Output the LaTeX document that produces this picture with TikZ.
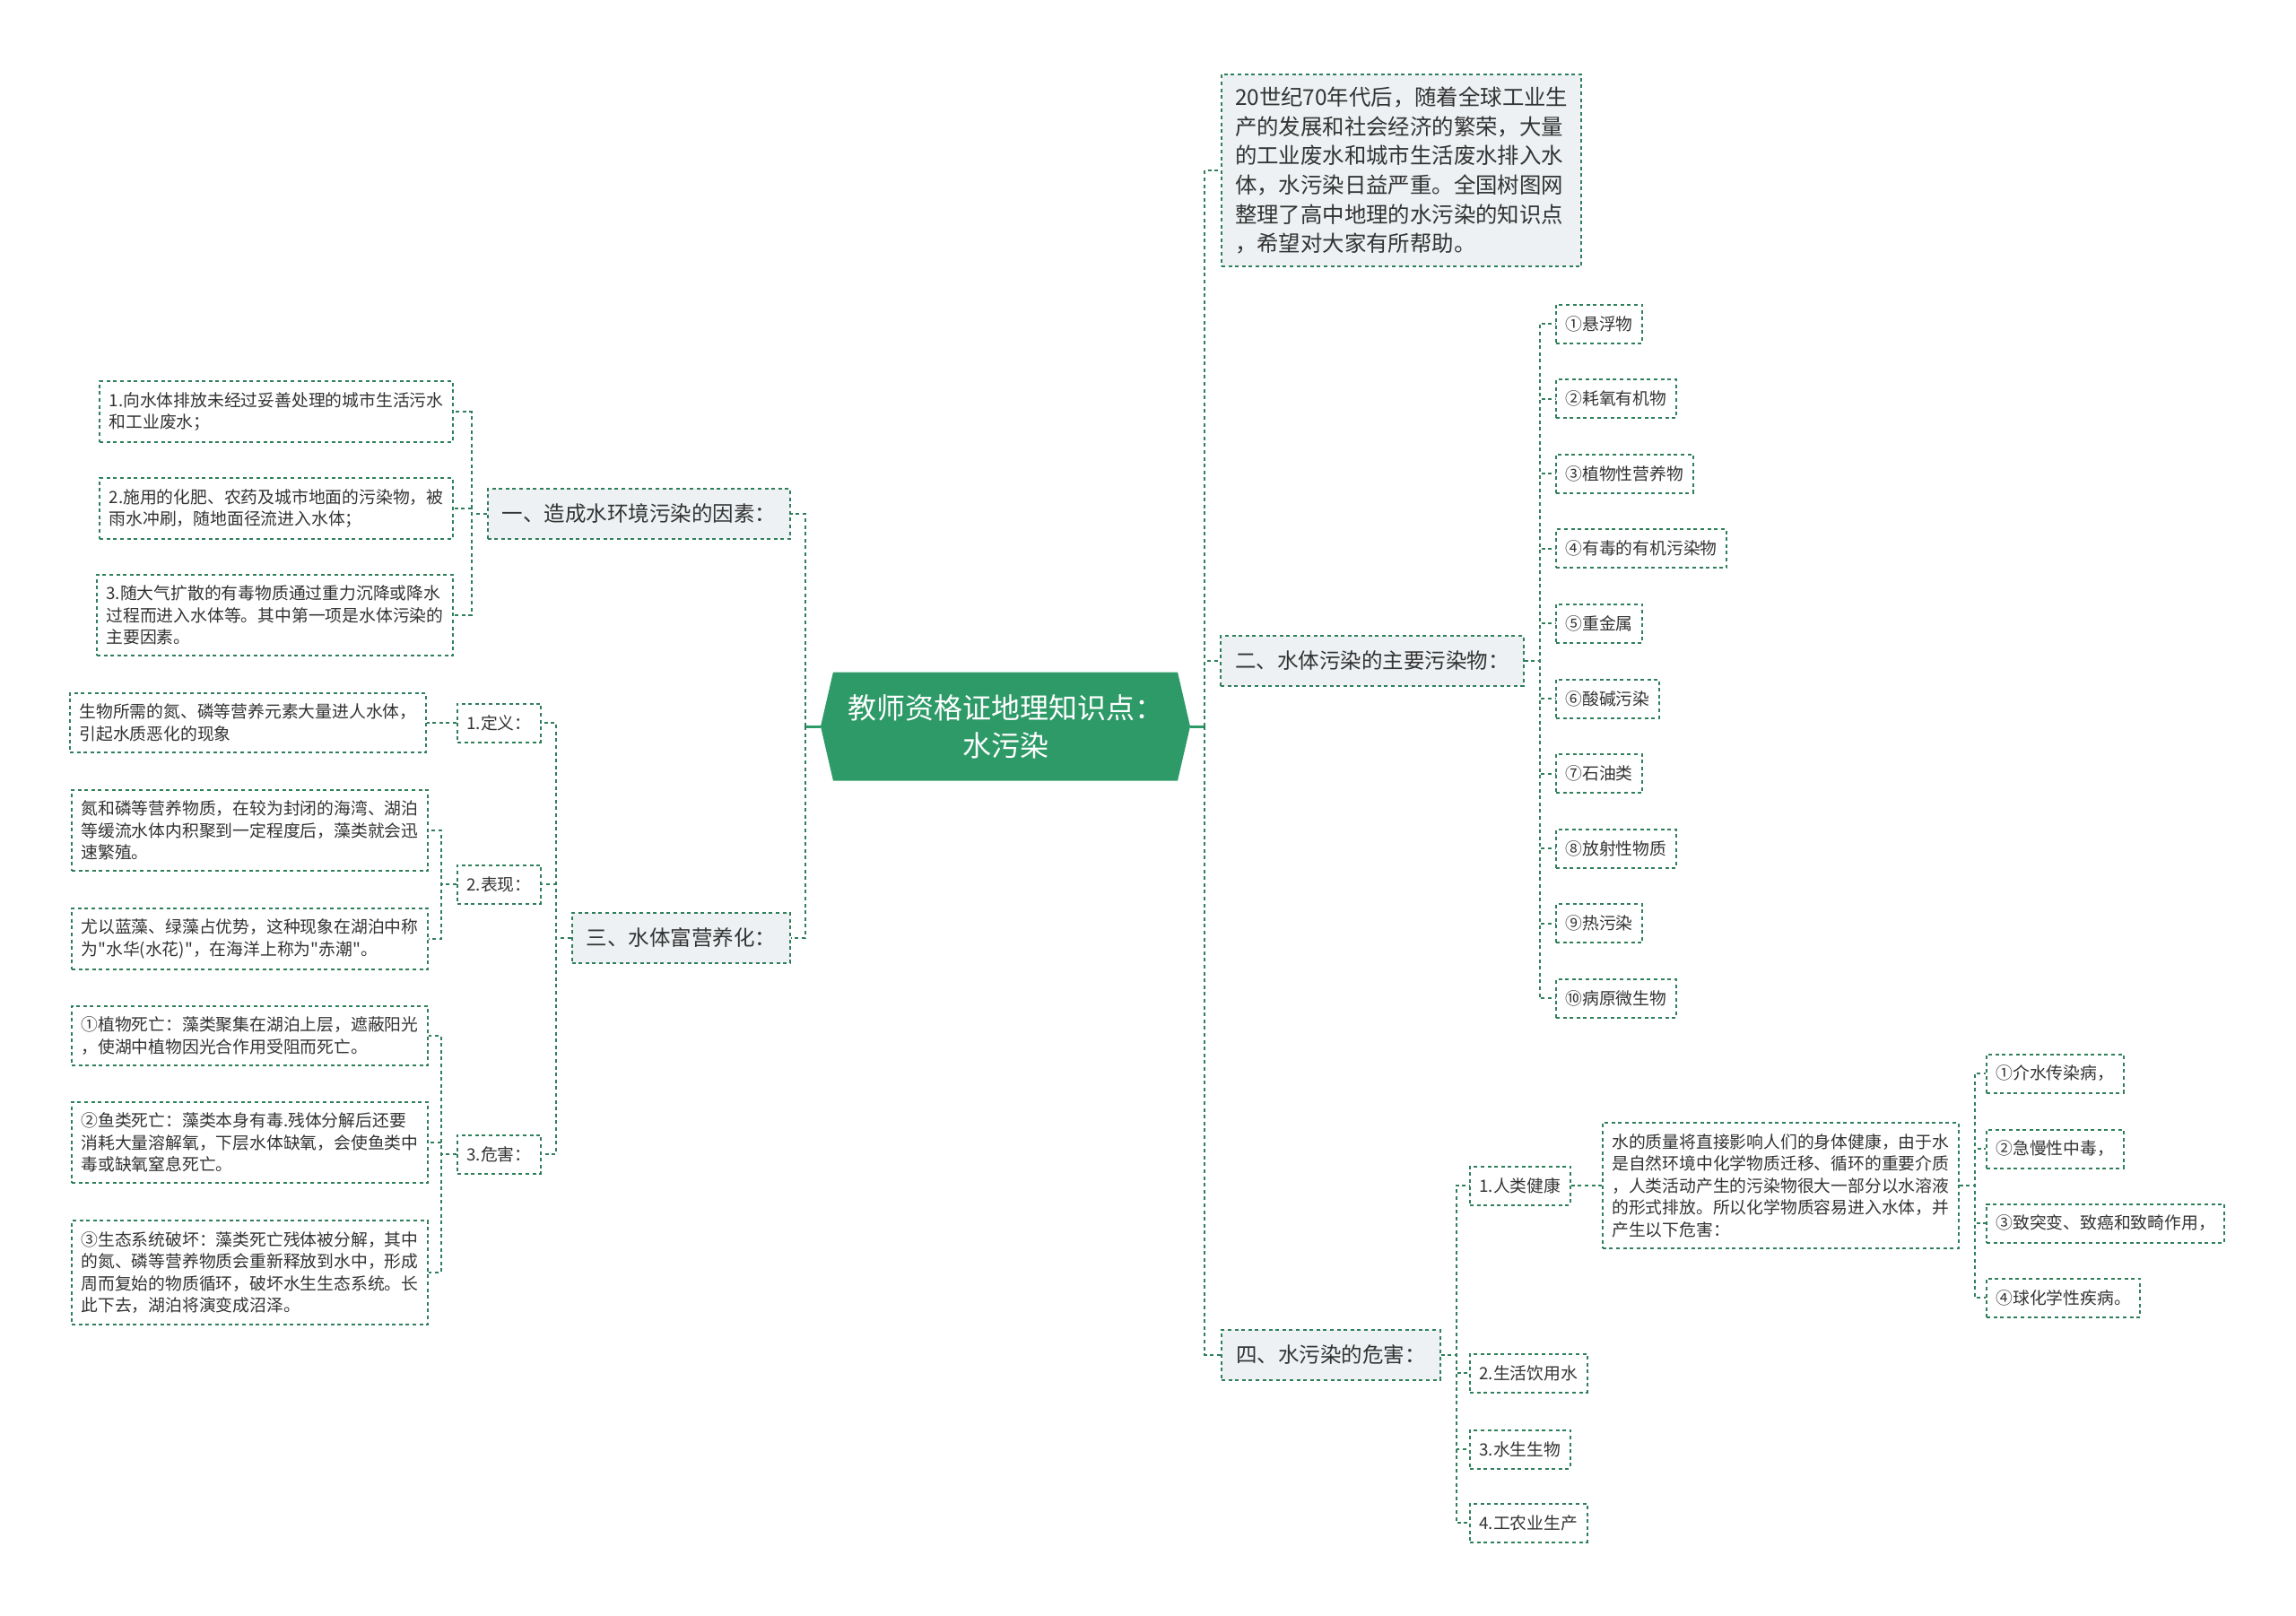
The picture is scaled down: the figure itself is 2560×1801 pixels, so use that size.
\documentclass[tikz,border=0pt]{standalone}
\usepackage{fontspec}
\setmainfont{Noto Sans CJK SC}[Ligatures=TeXOff]
\usepackage{xcolor}
\usetikzlibrary{positioning,shapes.symbols}
\definecolor{mapgreen}{HTML}{2E9A68}
\definecolor{linegreen}{HTML}{2F7F5C}
\definecolor{boxgray}{HTML}{EDF1F3}
\definecolor{inkgray}{HTML}{333333}

\begin{document}
\begin{tikzpicture}[x=0.5pt,y=-0.5pt,
 link/.style={draw=linegreen,line width=1pt,dash pattern=on 2pt off 1.8pt},
 stem/.style={draw=mapgreen,line width=1.5pt},
 topic/.style={fill=mapgreen,text=white,shape=signal,signal to=west and east,signal pointer angle=154,minimum width=206pt,minimum height=60.5pt,align=center,inner sep=0pt,font=\fontsize{16}{21}\selectfont},
 branch/.style={link,fill=boxgray,text=inkgray,minimum height=28pt,inner xsep=8pt,font=\fontsize{11.75}{14}\selectfont},
 intro/.style={link,fill=boxgray,text=inkgray,align=left,inner xsep=7.5pt,inner ysep=7pt,font=\fontsize{12.2}{16.35}\selectfont},
 leaf/.style={link,fill=white,text=inkgray,align=left,inner xsep=5.25pt,inner ysep=6pt,minimum height=21.5pt,font=\fontsize{9.4}{12.25}\selectfont}]
\useasboundingbox (0,0) rectangle (2560,1801);

\node[topic] (root) at (1121,810) {教师资格证地理知识点：\\水污染};

\node[intro,anchor=west] (intro) at (1361,190) {20世纪70年代后，随着全球工业生\\产的发展和社会经济的繁荣，大量\\的工业废水和城市生活废水排入水\\体，水污染日益严重。全国树图网\\整理了高中地理的水污染的知识点\\，希望对大家有所帮助。};
\node[branch,anchor=west] (b2) at (1360,737) {二、水体污染的主要污染物：};
\node[branch,anchor=west] (b4) at (1361,1511) {四、水污染的危害：};
\node[branch,anchor=east] (b1) at (882,573) {一、造成水环境污染的因素：};
\node[branch,anchor=east] (b3) at (882,1046) {三、水体富营养化：};

\foreach \t [count=\i] in {①悬浮物,②耗氧有机物,③植物性营养物,④有毒的有机污染物,⑤重金属,⑥酸碱污染,⑦石油类,⑧放射性物质,⑨热污染,⑩病原微生物}
  \node[leaf,anchor=west] (p\i) at (1734,{361+(\i-1)*83.6}) {\t};

\node[leaf,anchor=west] (h1) at (1638,1322) {1.人类健康};
\node[leaf,anchor=west] (h2) at (1638,1531) {2.生活饮用水};
\node[leaf,anchor=west] (h3) at (1638,1616) {3.水生生物};
\node[leaf,anchor=west] (h4) at (1638,1698) {4.工农业生产};
\node[leaf,right=17pt of h1] (health) {水的质量将直接影响人们的身体健康，由于水\\是自然环境中化学物质迁移、循环的重要介质\\，人类活动产生的污染物很大一部分以水溶液\\的形式排放。所以化学物质容易进入水体，并\\产生以下危害：};
\node[leaf,anchor=west] (d1) at (2214,1197) {①介水传染病，};
\node[leaf,anchor=west] (d2) at (2214,1281) {②急慢性中毒，};
\node[leaf,anchor=west] (d3) at (2214,1364) {③致突变、致癌和致畸作用，};
\node[leaf,anchor=west] (d4) at (2214,1447) {④球化学性疾病。};

\node[leaf,anchor=east] (c1) at (506,459) {1.向水体排放未经过妥善处理的城市生活污水\\和工业废水；};
\node[leaf,anchor=east] (c2) at (506,567) {2.施用的化肥、农药及城市地面的污染物，被\\雨水冲刷，随地面径流进入水体；};
\node[leaf,anchor=east] (c3) at (506,686) {3.随大气扩散的有毒物质通过重力沉降或降水\\过程而进入水体等。其中第一项是水体污染的\\主要因素。};

\node[leaf,anchor=east] (e1) at (604,806) {1.定义：};
\node[leaf,anchor=east] (e2) at (604,986) {2.表现：};
\node[leaf,anchor=east] (e3) at (604,1287) {3.危害：};
\node[leaf,left=16.5pt of e1] (def) {生物所需的氮、磷等营养元素大量进人水体，\\引起水质恶化的现象};
\node[leaf,anchor=east] (sign1) at (478,926) {氮和磷等营养物质，在较为封闭的海湾、湖泊\\等缓流水体内积聚到一定程度后，藻类就会迅\\速繁殖。};
\node[leaf,anchor=east] (sign2) at (478,1047) {尤以蓝藻、绿藻占优势，这种现象在湖泊中称\\为"水华(水花)"，在海洋上称为"赤潮"。};
\node[leaf,anchor=east] (harm1) at (478,1155) {①植物死亡：藻类聚集在湖泊上层，遮蔽阳光\\，使湖中植物因光合作用受阻而死亡。};
\node[leaf,anchor=east] (harm2) at (478,1274) {②鱼类死亡：藻类本身有毒.残体分解后还要\\消耗大量溶解氧，下层水体缺氧，会使鱼类中\\毒或缺氧窒息死亡。};
\node[leaf,anchor=east] (harm3) at (478,1419) {③生态系统破坏：藻类死亡残体被分解，其中\\的氮、磷等营养物质会重新释放到水中，形成\\周而复始的物质循环，破坏水生生态系统。长\\此下去，湖泊将演变成沼泽。};

\draw[stem] (root.east) -- ++(8pt,0) coordinate (rj);
\draw[stem] (root.west) -- ++(-8.5pt,0) coordinate (lj);
\foreach \n in {intro,b2,b4} \draw[link] (rj) |- (\n.west);
\foreach \n in {b1,b3} \draw[link] (lj) |- (\n.east);
\foreach \i in {1,...,10} \draw[link] (b2.east) -- ++(8.5pt,0) |- (p\i.west);
\foreach \n in {h1,h2,h3,h4} \draw[link] (b4.east) -- ++(8.5pt,0) |- (\n.west);
\draw[link] (h1) -- (health);
\foreach \n in {d1,d2,d3,d4} \draw[link] (health.east) -- ++(8.5pt,0) |- (\n.west);
\foreach \n in {c1,c2,c3} \draw[link] (b1.west) -- ++(-8.5pt,0) |- (\n.east);
\foreach \n in {e1,e2,e3} \draw[link] (b3.west) -- ++(-8.5pt,0) |- (\n.east);
\draw[link] (e1) -- (def);
\foreach \n in {sign1,sign2} \draw[link] (e2.west) -- ++(-8.5pt,0) |- (\n.east);
\foreach \n in {harm1,harm2,harm3} \draw[link] (e3.west) -- ++(-8.5pt,0) |- (\n.east);
\end{tikzpicture}
\end{document}
